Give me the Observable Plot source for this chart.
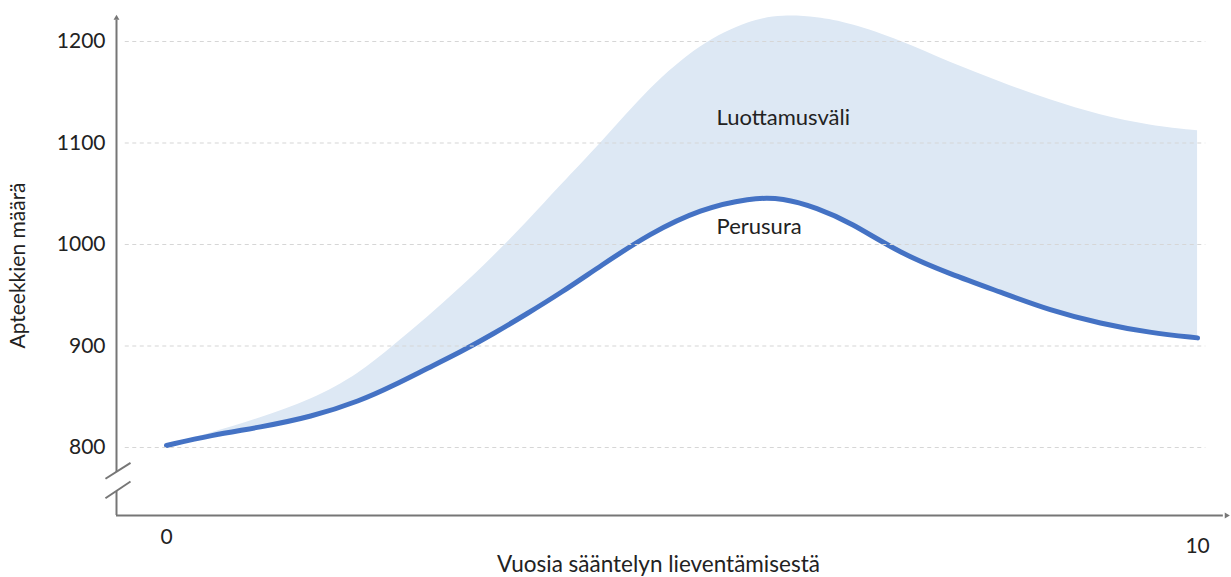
<!DOCTYPE html>
<html><head><meta charset="utf-8">
<script src="https://cdn.jsdelivr.net/npm/d3@7"></script>
<script src="https://cdn.jsdelivr.net/npm/@observablehq/plot@0.6"></script>
<style>html,body{margin:0;padding:0;background:#fff;overflow:hidden;}</style>
</head><body><div id="chart"></div>
<script>
// Data
const years    = [0, 0.43, 0.91, 1.40, 1.88, 2.20, 2.53, 2.85, 3.17, 3.50, 3.82, 4.21, 4.69, 5.18, 5.66, 5.98, 6.31, 6.63, 7.12, 7.60, 8.09, 8.57, 9.06, 9.54, 10];
const baseline = [802, 812, 820, 830, 846, 861, 878, 894, 912, 932, 952, 979, 1011, 1035, 1046, 1046, 1036, 1022, 991, 971, 953, 935, 922, 913, 908];
const upper    = [802, 814, 829, 846, 873, 900, 928, 957, 988, 1022, 1058, 1099, 1155, 1198, 1221, 1226, 1224, 1218, 1201, 1179, 1160, 1142, 1127, 1117, 1112];
const yTicks = [800, 900, 1000, 1100, 1200];
const xTicks = [0, 10];
const yTitle = "Apteekkien määrä";
const xTitle = "Vuosia sääntelyn lieventämisestä";
const bandLabel = "Luottamusväli";
const lineLabel = "Perusura";

const data = years.map((year, i) => ({year, base: baseline[i], upper: upper[i]}));

const xAxisAt = -0.485, xEnd = 10.3;
const yBottom = 733, yTop = 1225.6;
const axisColor = "#767676";
const textColor = "#222222";
const font = "Lato, 'Open Sans', sans-serif";

const plot = Plot.plot({
  width: 1231,
  height: 577,
  marginLeft: 116,
  marginRight: 3,
  marginTop: 15,
  marginBottom: 62,
  style: {fontFamily: font, background: "#fff", overflow: "visible"},
  x: {domain: [xAxisAt, xEnd], axis: null},
  y: {domain: [yBottom, yTop], axis: null},
  marks: [
    Plot.areaY(data, {x: "year", y1: "base", y2: "upper", fill: "#dde8f4", curve: "basis"}),
    Plot.lineY(data, {x: "year", y: "base", stroke: "#4472c4", strokeWidth: 5, curve: "basis"}),
    Plot.ruleY(yTicks, {x1: -0.4, x2: 10.08, stroke: "#d6d6d6", strokeWidth: 1.2, strokeDasharray: "4,3.5"}),
    // y axis (with break) and x axis
    Plot.ruleX([xAxisAt], {y1: yBottom, y2: 756.7, stroke: axisColor, strokeWidth: 2}),
    Plot.ruleX([xAxisAt], {y1: 775.4, y2: 1221, stroke: axisColor, strokeWidth: 2}),
    Plot.dot([xAxisAt], {x: d => d, y: 1223, symbol: "triangle2", r: 2.8, fill: axisColor, stroke: null}),
    Plot.ruleY([yBottom], {x1: xAxisAt, x2: 10.25, stroke: axisColor, strokeWidth: 2}),
    Plot.dot([10.28], {x: d => d, y: yBottom, symbol: "triangle2", r: 2.8, fill: axisColor, stroke: null, rotate: 90}),
    Plot.link([{x1: -0.592, y1: 769.2, x2: -0.349, y2: 784.9}, {x1: -0.592, y1: 750.0, x2: -0.349, y2: 766.5}],
      {x1: "x1", y1: "y1", x2: "x2", y2: "y2", stroke: axisColor, strokeWidth: 2}),
    // tick labels
    Plot.text(yTicks, {frameAnchor: "left", y: d => d, text: d => String(d), dx: -11, textAnchor: "end", lineAnchor: "middle", fontSize: 21, fill: textColor}),
    Plot.text([xTicks[0]], {x: d => d, frameAnchor: "bottom", text: d => String(d), dy: 22, lineAnchor: "middle", fontSize: 21, fill: textColor}),
    Plot.text([xTicks[1]], {x: d => d, frameAnchor: "bottom", text: d => String(d), dy: 31, lineAnchor: "middle", fontSize: 21, fill: textColor}),
    // axis titles
    Plot.text([yTitle], {frameAnchor: "left", text: d => d, dx: -98, rotate: -90, textAnchor: "middle", lineAnchor: "middle", fontSize: 21, fill: textColor}),
    Plot.text([xTitle], {frameAnchor: "bottom", text: d => d, dx: -14, dy: 49, textAnchor: "middle", lineAnchor: "middle", fontSize: 22.5, fill: textColor}),
    // annotations
    Plot.text([bandLabel], {x: 5.335, y: 1125, text: d => d, textAnchor: "start", fontSize: 22, fill: textColor}),
    Plot.text([lineLabel], {x: 5.335, y: 1017, text: d => d, textAnchor: "start", fontSize: 22, fill: textColor})
  ]
});
document.getElementById("chart").appendChild(plot);
</script></body></html>
